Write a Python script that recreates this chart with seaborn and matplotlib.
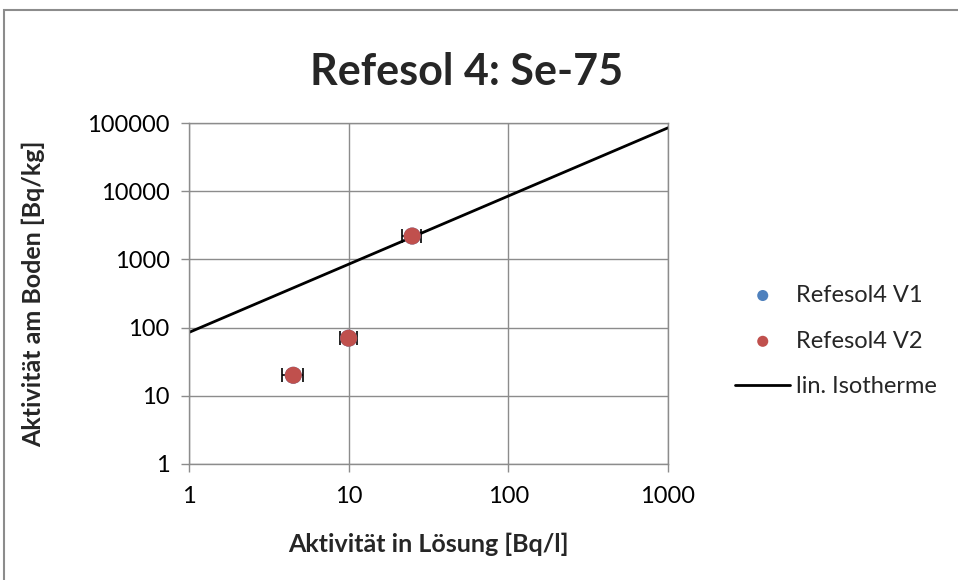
import numpy as np
import pandas as pd
import matplotlib
matplotlib.use("Agg")
import matplotlib.pyplot as plt
import seaborn as sns
from matplotlib.patches import Rectangle

# data
loesung = [4.5, 10.0, 25.0]          # Bq/l
loesung_err = [0.65, 1.2, 3.5]
boden = [20.0, 70.0, 2200.0]         # Bq/kg
kd = 85.0                             # lin. Isotherme slope
iso_x = [1.0, 1000.0]

titel = "Refesol 4: Se-75"
x_label = "Aktivität in Lösung [Bq/l]"
y_label = "Aktivität am Boden [Bq/kg]"
x_ticks = [1, 10, 100, 1000]
y_ticks = [1, 10, 100, 1000, 10000, 100000]

blau = "#4F81BD"
rot = "#C0504D"

sns.set_style("white")
plt.rcParams['font.family'] = ['Lato', 'DejaVu Sans']

fig = plt.figure(figsize=(9.58, 5.8), dpi=100)
ax = fig.add_axes([189 / 958, 1 - 464 / 580, (668 - 189) / 958, (464 - 123) / 580])

# outer chart frame
fig.patches.append(Rectangle((4 / 958, -0.2), 1.2, 1.2 - 10 / 580,
                             transform=fig.transFigure, fill=False,
                             edgecolor="#8c8c8c", linewidth=1.5))

df = pd.DataFrame({"x": loesung, "y": boden})
iso = pd.DataFrame({"x": iso_x, "y": [kd * v for v in iso_x]})

ax.errorbar(loesung, boden, xerr=loesung_err, fmt="none", ecolor="black",
            elinewidth=1.2, capsize=5, capthick=1.2, zorder=3)
sns.lineplot(data=iso, x="x", y="y", ax=ax, color="black", linewidth=2,
             label="lin. Isotherme", zorder=2)
sns.scatterplot(data=df, x="x", y="y", ax=ax, color=blau, s=150,
                edgecolor="none", label="Refesol4 V1", zorder=4)
sns.scatterplot(data=df, x="x", y="y", ax=ax, color=rot, s=150,
                edgecolor="none", label="Refesol4 V2", zorder=5)

ax.set_xscale("log")
ax.set_yscale("log")
ax.set_xlim(1, 1000)
ax.set_ylim(1, 100000)
ax.set_xticks(x_ticks)
ax.set_xticklabels([str(t) for t in x_ticks])
ax.set_yticks(y_ticks)
ax.set_yticklabels([str(t) for t in y_ticks])
ax.minorticks_off()
ax.tick_params(axis="both", labelsize=17, length=6, width=1,
               color="#8c8c8c", direction="out", labelcolor="black")
ax.tick_params(axis="x", pad=10)
ax.tick_params(axis="y", pad=8)
ax.tick_params(left=True, bottom=True)
ax.grid(True, which="major", color="#8c8c8c", linewidth=1)
for sp in ax.spines.values():
    sp.set_color("#8c8c8c")
    sp.set_linewidth(1)

ax.set_xlabel(x_label, fontsize=18, fontweight="bold", labelpad=18)
ax.set_ylabel(y_label, fontsize=18, fontweight="bold", labelpad=30)
fig.text(467 / 958, 1 - 72 / 580, titel, fontsize=31, fontweight="bold",
         ha="center", va="center")

handles, labels = ax.get_legend_handles_labels()
order = [labels.index(l) for l in ["Refesol4 V1", "Refesol4 V2", "lin. Isotherme"]]
ax.legend([handles[i] for i in order], [labels[i] for i in order],
          loc="center left", bbox_to_anchor=(1 + (735 - 668) / 479, (464 - 341) / 341),
          borderaxespad=0, borderpad=0, frameon=False,
          fontsize=17, labelspacing=1.05, handlelength=2.35, handletextpad=0.25,
          markerscale=0.65)

fig.savefig("out.png", dpi=100)
